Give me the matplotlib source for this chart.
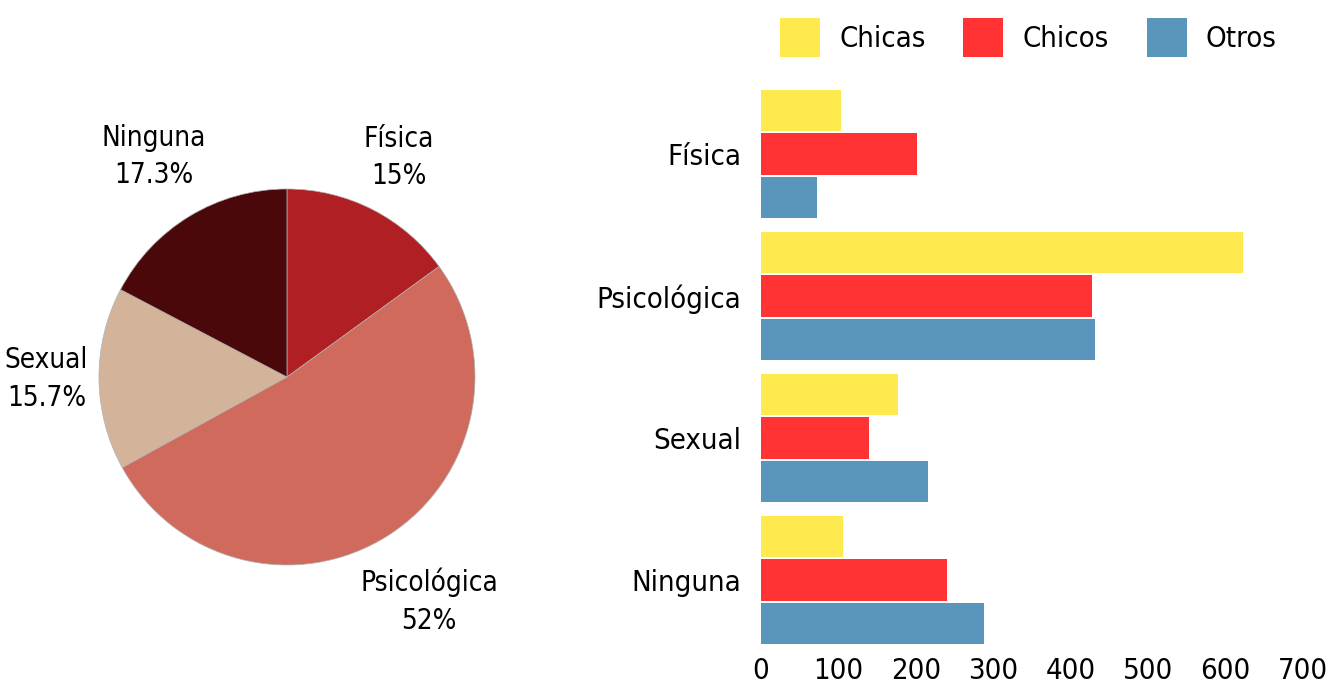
import numpy as np
import matplotlib.pyplot as plt

plt.rcParams['font.family'] = ['DejaVu Sans']
plt.rcParams['font.stretch'] = 'condensed'

# Pie data
pie_labels = ['Física', 'Psicológica', 'Sexual', 'Ninguna']
pie_pct = [15, 52, 15.7, 17.3]
pie_text = ['15%', '52%', '15.7%', '17.3%']
pie_colors = ['#AF1F23', '#D06A5D', '#D3B49B', '#4A080A']

# Bar data
categories = ['Física', 'Psicológica', 'Sexual', 'Ninguna']
chicas = [103, 622, 177, 106]
chicos = [202, 427, 139, 240]
otros = [72, 432, 216, 288]
series_names = ['Chicas', 'Chicos', 'Otros']
series_colors = ['#FEE94E', '#FF3333', '#5A96BC']
xticks = [0, 100, 200, 300, 400, 500, 600, 700]

fig = plt.figure(figsize=(13.32, 6.93), dpi=100)

# pie
ax1 = fig.add_axes([0.0743, 0.1847, 0.2823, 0.5426])
wedges, texts = ax1.pie(pie_pct, colors=pie_colors, startangle=90, counterclock=False,
                        labels=[l + '\n' + t for l, t in zip(pie_labels, pie_text)],
                        wedgeprops=dict(linewidth=0.5, edgecolor='#b0b0b0'),
                        textprops=dict(fontsize=20, ha='center', va='center', linespacing=1.45))
label_dist = [1.31, 1.41, 1.28, 1.37]
for w, t, d in zip(wedges, texts, label_dist):
    ang = np.deg2rad((w.theta1 + w.theta2) / 2)
    t.set_position((d * np.cos(ang), d * np.sin(ang)))
ax1.set_xlim(-1, 1)
ax1.set_ylim(-1, 1)
ax1.set_aspect('equal')

# bars
ax2 = fig.add_axes([0.5713, 0.0606, 0.4069, 0.8196])
y = np.arange(len(categories))
h = 0.29
gap = 0.305
for i, (vals, name, col) in enumerate(zip([chicas, chicos, otros], series_names, series_colors)):
    ax2.barh(y + (i - 1) * gap, vals, height=h, color=col, label=name)
ax2.set_ylim(len(categories) - 0.5, -0.5)
ax2.set_xlim(0, 700)
ax2.set_yticks(y)
ax2.set_yticklabels(categories, fontsize=21)
ax2.set_xticks(xticks)
ax2.set_xticklabels([str(v) for v in xticks], fontsize=21)
ax2.tick_params(axis='y', length=0, pad=14)
ax2.tick_params(axis='x', length=0, pad=4)
for s in ax2.spines.values():
    s.set_visible(False)

handles, names = ax2.get_legend_handles_labels()
fig.legend(handles, names, loc='upper center', bbox_to_anchor=(0.772, 1.012), ncol=3, frameon=False,
           fontsize=21, handlelength=1.37, handleheight=1.7, columnspacing=1.3, handletextpad=0.65)

fig.savefig('out.png', dpi=100)
